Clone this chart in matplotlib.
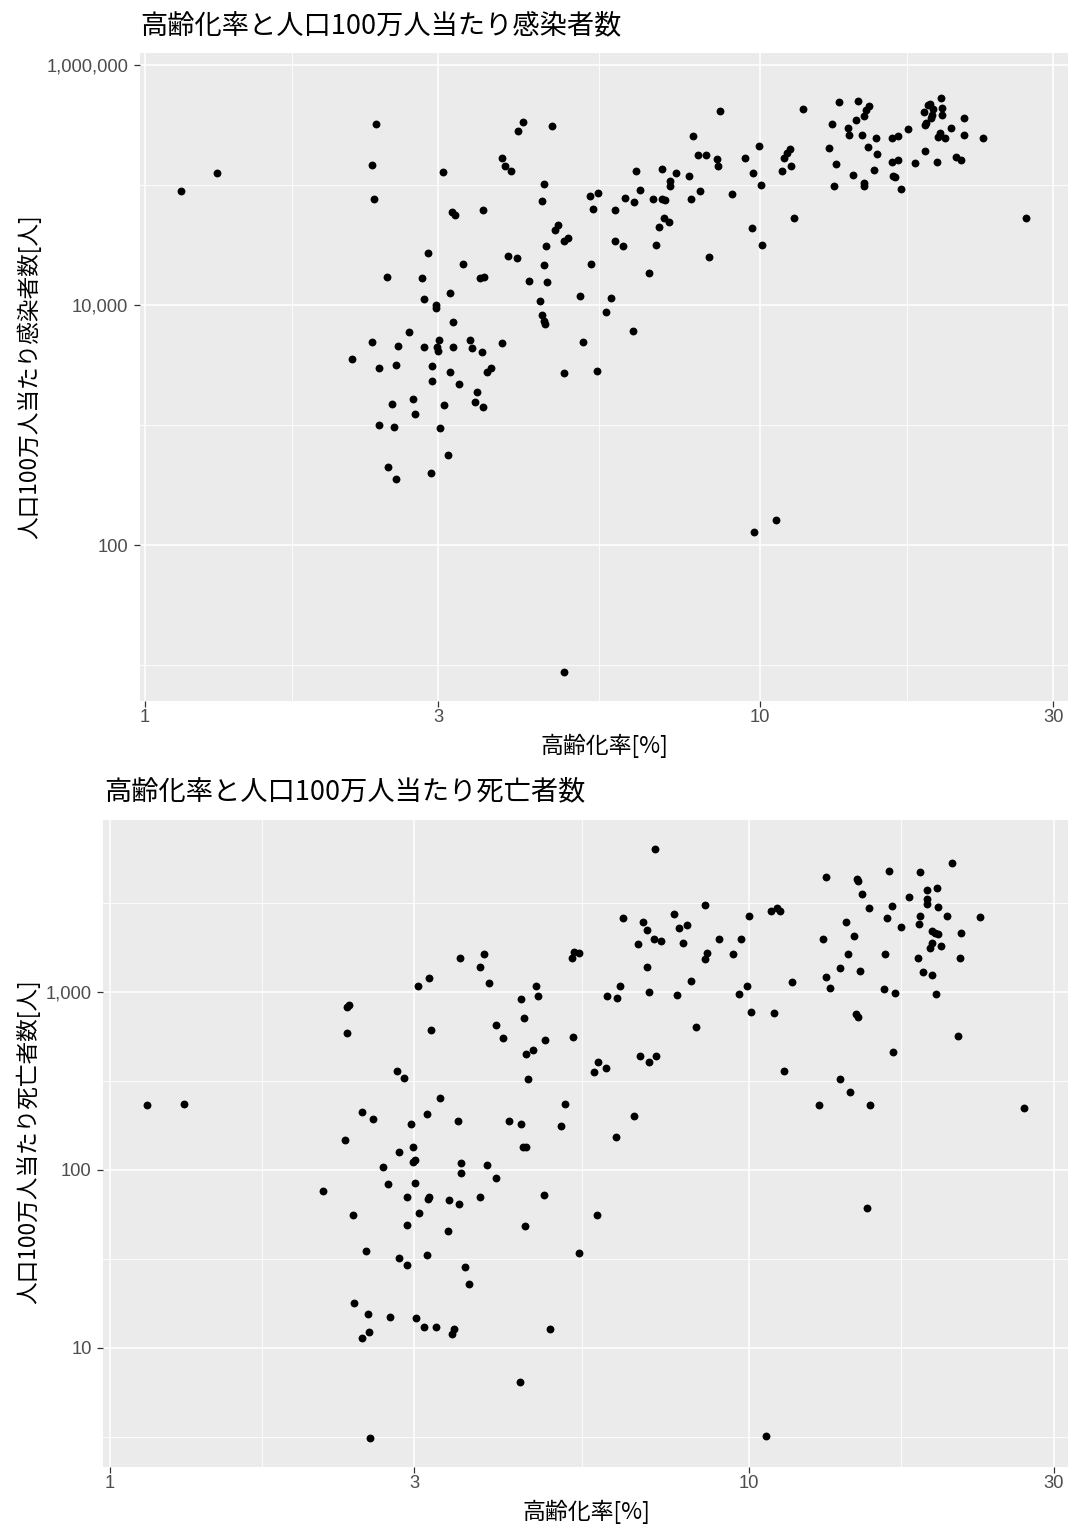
import matplotlib
matplotlib.use("Agg")
import matplotlib.pyplot as plt
from matplotlib.ticker import FixedLocator, NullFormatter
import numpy as np

CJK = ['Noto Sans CJK JP', 'DejaVu Sans']
NUM = ['Liberation Sans', 'DejaVu Sans']
plt.rcParams['font.family'] = NUM

# ---------------- data ----------------
title_cases = "高齢化率と人口100万人当たり感染者数"
title_deaths = "高齢化率と人口100万人当たり死亡者数"
xlabel = "高齢化率[%]"
ylabel_cases = "人口100万人当たり感染者数[人]"
ylabel_deaths = "人口100万人当たり死亡者数[人]"

x_ticks = [1, 3, 10, 30]
x_ticklabels = ["1", "3", "10", "30"]
cases_yticks = [100, 10000, 1000000]
cases_yticklabels = ["100", "10,000", "1,000,000"]
deaths_yticks = [10, 100, 1000]
deaths_yticklabels = ["10", "100", "1,000"]

# panel 1: aging rate [%] vs cases per million
aging_c = [
    1.144, 1.308, 2.372, 2.339, 2.357, 3.05, 4.12, 4.035, 3.813, 3.852, 3.943, 3.158, 3.187, 3.55,
    2.89, 3.887, 4.02, 3.295, 2.479, 2.82, 3.51, 3.56, 4.21, 3.138, 2.846, 2.972, 2.976, 3.163,
    2.689, 2.339, 2.576, 2.838, 3.011, 2.98, 3.0, 3.171, 3.382, 3.408, 3.528, 3.813, 2.167, 2.406,
    2.563, 2.931, 3.13, 3.593, 3.659,
    2.931, 3.245, 3.461, 2.517, 2.727, 3.058, 3.443, 3.55, 2.751, 2.406, 2.54, 3.015, 3.106, 2.485,
    2.556, 2.923,
    4.59, 8.6, 7.78, 11.75, 13.44, 14.44, 15.03, 14.89, 14.78, 14.31, 13.09, 13.93, 13.95, 14.64,
    15.42, 16.37, 16.8, 17.39, 19.7, 18.91, 18.74, 18.5, 19.15, 19.05, 18.98, 19.75, 19.75, 18.59,
    18.52, 20.43, 21.51, 21.51, 23.06, 19.65, 19.5, 19.98, 18.57, 19.43, 20.8, 21.23, 17.86, 16.37,
    16.8, 14.97, 15.52, 12.93, 13.28, 15.32, 14.17, 14.78, 14.74, 13.19, 16.45, 16.6, 16.97, 11.21,
    11.07, 10.96, 11.25, 10.86, 9.97, 9.47, 9.74, 10.03, 9.0, 11.36, 9.69, 10.09, 27.05, 7.92, 8.17,
    8.53, 8.55, 7.66, 8.0, 7.73, 7.31, 7.15, 7.15, 6.93, 6.29, 6.39, 6.03, 6.23, 6.71, 6.93, 7.01,
    5.82, 6.98, 7.11, 6.86, 6.77, 6.61, 8.27, 5.82, 5.99, 5.3, 5.45, 5.35, 4.69, 4.65, 4.8, 4.88,
    4.49, 4.46, 4.43, 5.32, 4.45, 4.51, 4.39, 5.1, 5.73, 5.61, 4.42, 4.46, 4.48, 6.21, 5.15, 4.8,
    5.44,
    9.78, 10.64, 4.81,
]
cases_pm = [
    89700, 126000, 320000, 147000, 76000, 128000, 333000, 280000, 168000, 145000, 130000, 59600,
    56600, 62300, 27300, 25600, 24500, 21800, 17000, 16700, 16700, 17100, 15800, 12500, 11300,
    10000, 9380, 7210, 6000, 4890, 4530, 4470, 5080, 4470, 4140, 4470, 5140, 4350, 4090, 4820,
    3570, 3000, 3180, 3100, 2750, 2750, 3000,
    2310, 2210, 1870, 1490, 1650, 1460, 1560, 1420, 1240, 1000, 968, 950, 566, 444, 357, 398,
    308000, 416000, 259000, 430000, 489000, 505000, 458000, 422000, 373000, 348000, 322000,
    298000, 263000, 261000, 245000, 248000, 259000, 295000, 531000, 473000, 467000, 406000,
    433000, 383000, 359000, 438000, 385000, 331000, 316000, 298000, 359000, 261000, 248000,
    270000, 253000, 248000, 193000, 156000, 170000, 161000, 152000, 156000, 161000, 208000,
    180000, 203000, 150000, 134000, 122000, 104000, 97500, 97500, 120000, 117000, 92600, 201000,
    184000, 168000, 145000, 130000, 213000, 167000, 126000, 101000, 84700, 53400, 43800, 31400,
    52800, 177000, 177000, 164000, 144000, 120000, 88600, 76000, 126000, 108000, 98700, 136000,
    130000, 90800, 78400, 72600, 76900, 76900, 74500, 61500, 53100, 48800, 44400, 31800, 18600,
    25300, 34000, 31200, 80900, 86300, 63100, 46100, 42200, 34100, 36200, 30800, 102000, 73600,
    22000, 21400, 15500, 10900, 12000, 11400, 8800, 8200, 7400, 6900, 6070, 4890, 2700, 2820,
    128, 161, 8.8,
]

# panel 2: aging rate [%] vs deaths per million
aging_d = [
    1.144, 1.309, 3.54, 3.85, 3.80, 3.93, 3.04, 3.16, 2.35, 2.37, 2.35, 3.18, 4.41, 4.45, 4.02,
    4.12, 4.48, 4.51, 2.82, 2.89, 3.29, 2.48, 2.58, 3.14, 2.96, 3.51, 4.21, 4.41, 2.34,
    2.98, 2.84, 4.44, 4.49, 2.68, 2.98, 3.01, 3.55, 3.89, 3.55, 4.02, 2.73, 3.01, 2.16, 2.92, 3.16,
    3.15, 3.40, 3.80, 3.52, 2.40, 3.05, 2.92, 3.38, 4.47, 2.52, 2.84, 2.92, 3.14, 3.60, 3.65, 2.41,
    2.54, 2.75, 3.02, 3.11, 3.24, 3.46, 3.44, 2.55, 2.48, 4.39, 2.56,
    7.14, 13.23, 14.75, 14.84, 15.05, 16.56, 18.52, 20.8, 19.03, 19.7, 17.84, 18.98, 19.03, 19.75,
    16.74, 15.43, 16.48, 17.34, 18.52, 18.45, 20.4, 23.0, 19.39, 19.57, 19.75, 21.46, 19.39, 19.19,
    20.0, 18.42, 21.41, 18.74, 19.39, 19.65, 16.33, 16.27, 16.96, 14.18, 14.63, 14.3, 13.9, 14.94,
    13.08, 13.19, 13.39, 14.72, 14.82, 21.22, 16.79, 13.9, 14.43, 15.5, 12.89, 27.0, 11.36, 10.94,
    10.07, 11.71, 10.82, 11.06, 11.2, 10.0, 9.72, 8.98, 9.44, 9.94, 9.65, 8.54, 7.64, 7.77, 8.0,
    7.9, 8.6, 8.53, 8.13, 7.72, 8.27, 6.36, 6.84, 6.93, 7.1, 7.28, 6.71, 6.93, 6.98, 5.33, 5.43,
    5.29, 4.65, 4.69, 4.59, 4.80, 5.31, 6.30, 6.01, 6.22, 5.81, 5.72, 5.98, 6.77, 7.15, 6.98, 5.16,
    5.09, 6.61, 6.21,
    4.79, 5.80, 5.43, 4.88, 15.31, 10.63,
]
deaths_pm = [
    231, 233, 1553, 1621, 1370, 1119, 1076, 1188, 816, 841, 586, 612, 914, 714, 650, 547, 449, 322,
    361, 326, 254, 210, 193, 205, 180, 189, 189, 181, 147,
    134, 126, 134, 135, 103, 110, 113, 109, 107, 96, 90, 83, 84, 76, 70, 70.5, 68.5, 68, 70, 64,
    56, 57, 49, 45, 48, 35, 32, 29, 33, 28.5, 22.9, 17.8, 15.4, 14.9, 14.6, 13.0, 13.1, 12.8, 12.0,
    12.2, 11.3, 6.4, 3.1,
    6300, 4390, 4300, 4170, 3540, 4780, 4680, 5280, 3710, 3810, 3400, 3320, 3110, 3000, 3040, 2950,
    2580, 2300, 2660, 2410, 2660, 2630, 2190, 2150, 2110, 2140, 1870, 1750, 1800, 1553, 1553, 1290,
    1235, 975, 1620, 1040, 987, 2460, 2050, 1635, 1358, 1300, 1970, 1210, 1050, 752, 720, 566, 458,
    323, 273, 232, 232, 223, 361, 762, 768, 1128, 2830, 2950, 2830, 2660, 1970, 1985, 1620, 1080,
    975, 3070, 2720, 2270, 2370, 1870, 1656, 1520, 1153, 954, 634, 2580, 2470, 2230, 1970, 1926,
    1853, 1376, 992, 1678, 1656, 1553, 1076, 946, 472, 537, 559, 1072, 941, 925, 401, 355, 373,
    433, 433, 401, 235, 175, 200, 153,
    72, 56, 34, 12.8, 61, 3.2,
]

# ---------------- figure ----------------
fig = plt.figure(figsize=(10.69, 15.26), dpi=100)
ax1 = fig.add_axes([0.1305, 0.5406, 0.8686, 0.4246])
ax2 = fig.add_axes([0.0964, 0.0387, 0.9027, 0.4240])


def minor_between(majors, extra_low=False):
    m = [np.sqrt(a * b) for a, b in zip(majors[:-1], majors[1:])]
    if extra_low:
        m = [majors[0] ** 2 / m[0]] + m
    return m


def style(ax, xlim, ylim, yticks, yticklabels, yminor):
    ax.set_facecolor('#EBEBEB')
    ax.set_xscale('log')
    ax.set_yscale('log')
    ax.set_xlim(xlim)
    ax.set_ylim(ylim)
    ax.xaxis.set_major_locator(FixedLocator(x_ticks))
    ax.xaxis.set_minor_locator(FixedLocator(minor_between(x_ticks)))
    ax.yaxis.set_major_locator(FixedLocator(yticks))
    ax.yaxis.set_minor_locator(FixedLocator(yminor))
    ax.xaxis.set_minor_formatter(NullFormatter())
    ax.yaxis.set_minor_formatter(NullFormatter())
    ax.set_xticklabels(x_ticklabels)
    ax.set_yticklabels(yticklabels)
    ax.grid(which='major', color='white', linewidth=1.15)
    ax.grid(which='minor', color='white', linewidth=0.6)
    ax.set_axisbelow(True)
    for s in ax.spines.values():
        s.set_visible(False)
    ax.tick_params(which='major', length=4.0, width=0.9, color='#333333',
                   labelcolor='#4D4D4D', labelsize=13.2)
    ax.tick_params(axis='x', which='major', pad=2.0)
    ax.tick_params(axis='y', which='major', pad=4.2)
    ax.tick_params(which='minor', length=0)


style(ax1, (0.9796, 31.7), (5.01, 1.259e6), cases_yticks, cases_yticklabels,
      [10, 1000, 100000])
style(ax2, (0.977, 31.6), (2.14, 9230), deaths_yticks, deaths_yticklabels,
      minor_between([1, 10, 100, 1000, 10000]))

ax1.scatter(aging_c, cases_pm, s=32, color='black', linewidths=0, zorder=3)
ax2.scatter(aging_d, deaths_pm, s=32, color='black', linewidths=0, zorder=3)

W, H = 1069.0, 1526.0
fig.text(140 / W, 1 - 26 / H, title_cases, family=CJK, fontsize=19.6, ha='left', va='center')
fig.text(104 / W, 1 - 792 / H, title_deaths, family=CJK, fontsize=19.6, ha='left', va='center')
fig.text(604 / W, 1 - 746 / H, xlabel, family=CJK, fontsize=16.5, ha='center', va='center')
fig.text(586 / W, 1 - 1512 / H, xlabel, family=CJK, fontsize=16.5, ha='center', va='center')
fig.text(29 / W, 1 - 377 / H, ylabel_cases, family=CJK, fontsize=16.3, ha='center', va='center',
         rotation=90)
fig.text(28 / W, 1 - 1142 / H, ylabel_deaths, family=CJK, fontsize=16.3, ha='center', va='center',
         rotation=90)

fig.savefig('out.png', dpi=100, facecolor='white')
